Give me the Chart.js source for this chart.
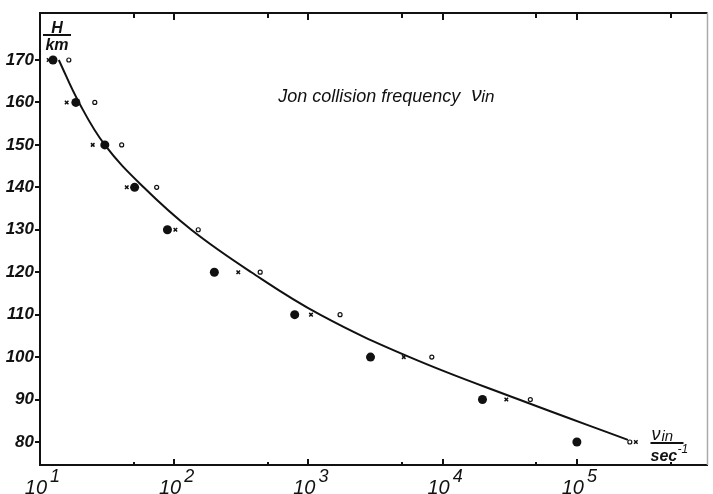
<!DOCTYPE html>
<html>
<head>
<meta charset="utf-8">
<script src="https://cdn.jsdelivr.net/npm/chart.js@4.4.1/dist/chart.umd.min.js"></script>
<style>
  html, body { margin: 0; padding: 0; background: #fff; }
</style>
</head>
<body>
<canvas id="chart" width="713" height="494"></canvas>
<script>
"use strict"

// Height, km
const heights = [170, 160, 150, 140, 130, 120, 110, 100, 90, 80]
// three point series, nu_in in sec^-1
const nuDots = [12.5, 18.5, 30.4, 50.7, 89, 199, 790, 2900, 19800, 100000]
const nuCross = [11.6, 15.8, 24.7, 44.3, 102, 300, 1045, 5130, 29800, 275000]
const nuOpen = [16.4, 25.6, 40.6, 74, 151, 437, 1720, 8300, 45000, 248000]
// smooth curve drawn by hand through the points
const curveNu = [13.8, 19.5, 30.4, 59.2, 134, 375, 1220, 5680, 37000, 240000]
const curveH = [170, 160, 150, 140, 130, 120, 110, 100, 90, 80.5]

const yTicks = [80, 90, 100, 110, 120, 130, 140, 150, 160, 170]
const xDecades = [10, 100, 1000, 10000, 100000]
const xHalves = [50, 500, 5000, 50000, 500000]
const xExponents = ["1", "2", "3", "4", "5"]

const INK = "#111"
const FONT = '"Liberation Sans", Arial, sans-serif'

function toPoints(xs, ys) {
  return xs.map((v, i) => ({ x: v, y: ys[i] }))
}

// frame, inward ticks, x labels with exponents and the texts
const framePlugin = {
  id: "frame",
  afterDraw(chart) {
    const c = chart.ctx
    const { left, right, top, bottom } = chart.chartArea
    const xs = chart.scales.x, ys = chart.scales.y
    c.save()
    c.strokeStyle = INK
    c.lineWidth = 2
    c.beginPath()
    c.moveTo(left - 1, top)
    c.lineTo(right, top)
    c.stroke()
    c.strokeStyle = "#aaa"
    c.lineWidth = 1.5
    c.beginPath()
    c.moveTo(right, top)
    c.lineTo(right, bottom)
    c.stroke()

    c.strokeStyle = INK
    c.lineWidth = 2
    xDecades.forEach(v => {
      const px = Math.round(xs.getPixelForValue(v))
      c.beginPath()
      c.moveTo(px, top); c.lineTo(px, top + 7)
      c.moveTo(px, bottom); c.lineTo(px, bottom - 6)
      c.stroke()
    })
    xHalves.forEach(v => {
      const px = Math.round(xs.getPixelForValue(v))
      if (px > right - 2) return
      c.beginPath()
      c.moveTo(px, top); c.lineTo(px, top + 5)
      c.moveTo(px, bottom); c.lineTo(px, bottom - 3)
      c.stroke()
    })

    // x tick labels 10^n
    c.fillStyle = INK
    c.textBaseline = "alphabetic"
    xDecades.forEach((v, i) => {
      const px = xs.getPixelForValue(v)
      c.font = "italic 20px " + FONT
      c.textAlign = "right"
      c.fillText("10", px + 7, 494)
      c.font = "italic 18px " + FONT
      c.textAlign = "left"
      c.fillText(xExponents[i], px + 10, 482)
    })

    // y axis unit H / km
    c.textAlign = "center"
    c.font = "italic bold 16px " + FONT
    c.fillText("H", left + 17, top + 20)
    c.fillRect(left + 3, top + 21, 28, 2)
    c.fillText("km", left + 17, top + 37)

    // x axis unit nu_in / sec^-1
    c.textAlign = "left"
    c.font = "italic 18px " + FONT
    c.fillText("ν", right - 56, bottom - 25)
    c.font = "italic 15px " + FONT
    c.fillText("in", right - 46, bottom - 24)
    c.fillRect(right - 57, bottom - 23, 33, 2)
    c.font = "italic bold 16px " + FONT
    c.fillText("sec", right - 57, bottom - 4)
    c.font = "italic 12px " + FONT
    c.fillText("-1", right - 30, bottom - 12)

    // title inside the plot, anchored to the scales
    const tx = xs.getPixelForValue(595)
    const ty = ys.getPixelForValue(160)
    c.font = "italic 18px " + FONT
    const t = "Jon collision frequency "
    c.fillText(t, tx, ty)
    const w = c.measureText(t).width
    c.font = "italic 21px " + FONT
    c.fillText("ν", tx + w + 6, ty - 1)
    c.font = "italic 17px " + FONT
    c.fillText("in", tx + w + 16, ty)
    c.restore()
  }
}

new Chart(document.getElementById("chart"), {
  type: "scatter",
  data: {
    datasets: [
      {
        data: toPoints(curveNu, curveH),
        showLine: true,
        borderColor: INK,
        borderWidth: 2,
        pointRadius: 0,
        tension: 0.4
      },
      {
        data: toPoints(nuDots, heights),
        pointStyle: "circle",
        pointRadius: 4.5,
        backgroundColor: INK,
        borderWidth: 0
      },
      {
        data: toPoints(nuCross, heights),
        pointStyle: "crossRot",
        pointRadius: 2.5,
        borderColor: INK,
        borderWidth: 1.5
      },
      {
        data: toPoints(nuOpen, heights),
        pointStyle: "circle",
        pointRadius: 2,
        backgroundColor: "#fff",
        borderColor: INK,
        borderWidth: 1.2
      }
    ]
  },
  options: {
    responsive: false,
    animation: false,
    layout: { padding: { top: 13, right: 3, left: 0, bottom: 0 } },
    plugins: { legend: { display: false }, tooltip: { enabled: false } },
    scales: {
      x: {
        type: "logarithmic",
        min: 10,
        max: 940000,
        afterFit: s => { s.height = 29 },
        afterBuildTicks: s => { s.ticks = xDecades.map(v => ({ value: v })) },
        ticks: { display: false },
        grid: { display: false },
        border: { display: true, color: INK, width: 2 }
      },
      y: {
        min: 74.58,
        max: 181.07,
        afterFit: s => { s.width = 40 },
        afterBuildTicks: s => { s.ticks = yTicks.map(v => ({ value: v })) },
        ticks: {
          color: INK,
          padding: 1,
          font: { family: FONT, size: 17, style: "italic", weight: "bold" }
        },
        grid: { drawOnChartArea: false, tickLength: 5, color: INK, lineWidth: 2 },
        border: { color: INK, width: 2 }
      }
    }
  },
  plugins: [framePlugin]
})
</script>
</body>
</html>
